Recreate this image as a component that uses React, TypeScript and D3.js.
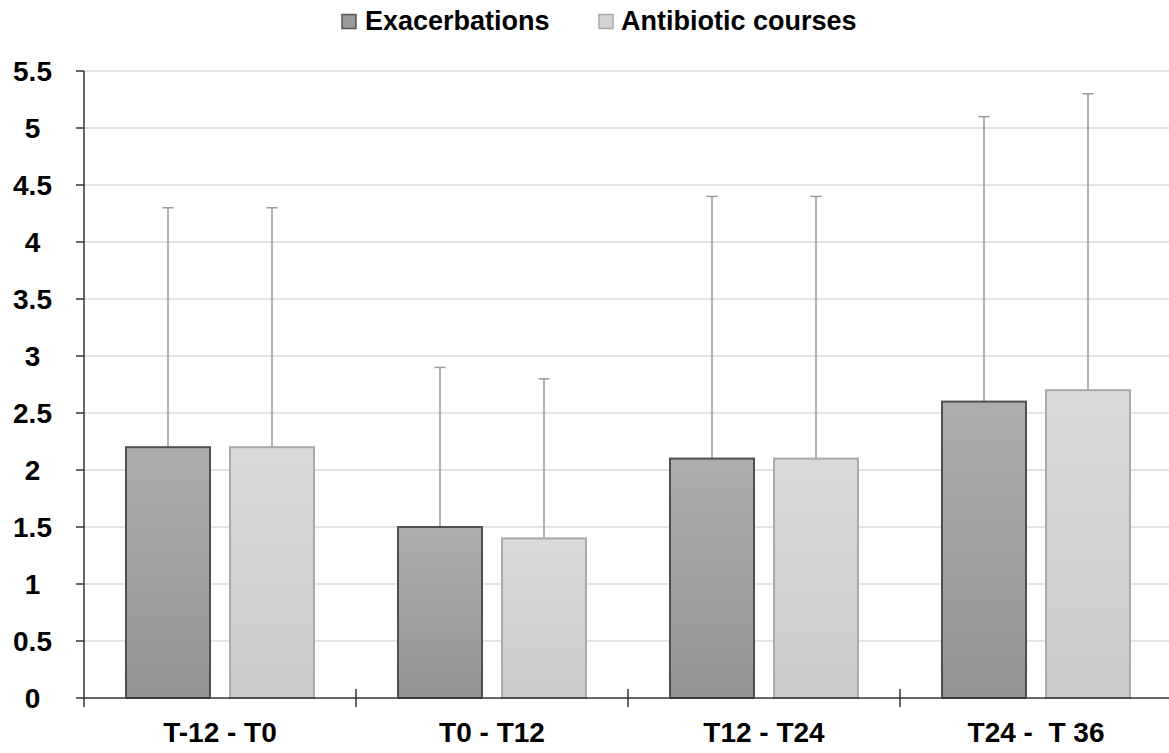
import React from "react";
import * as d3 from "d3";

const categories = ["T-12 - T0", "T0 - T12", "T12 - T24", "T24 -  T 36"];
const seriesNames = ["Exacerbations", "Antibiotic courses"];
const exacerbations = [2.2, 1.5, 2.1, 2.6];
const antibioticCourses = [2.2, 1.4, 2.1, 2.7];
const exacerbationsUpper = [4.3, 2.9, 4.4, 5.1];
const antibioticUpper = [4.3, 2.8, 4.4, 5.3];
const yTicks = [0, 0.5, 1, 1.5, 2, 2.5, 3, 3.5, 4, 4.5, 5, 5.5];

const W = 1169;
const H = 753;
const left = 84;
const right = 1172;
const top = 71;
const bottom = 698;
const FONT = "Arial, 'Liberation Sans', Helvetica, sans-serif";

export default function App() {
  const x0 = d3.scaleBand<string>().domain(categories).range([left, right]).padding(0);
  const x1 = d3
    .scaleBand<string>()
    .domain(seriesNames)
    .range([42, 230])
    .paddingInner(20 / 104)
    .paddingOuter(0);
  const y = d3.scaleLinear().domain([0, 5.5]).range([bottom, top]);
  const values = [exacerbations, antibioticCourses];
  const uppers = [exacerbationsUpper, antibioticUpper];
  const fills = ["url(#gDark)", "url(#gLight)"];
  const strokes = ["#4f4f4f", "#a9a9a9"];
  const legendFills = ["#9a9a9a", "#d3d3d3"];
  const legendStrokes = ["#555", "#aaa"];
  const legendX = [342, 599];
  const legendTextX = [365, 621];

  return (
    <svg
      width={W}
      height={H}
      style={{ position: "absolute", left: 0, top: 0, background: "#fff" }}
      fontFamily={FONT}
    >
      <defs>
        <linearGradient id="gDark" x1="0" y1="0" x2="0" y2="1">
          <stop offset="0" stopColor="#adadad" />
          <stop offset="1" stopColor="#939393" />
        </linearGradient>
        <linearGradient id="gLight" x1="0" y1="0" x2="0" y2="1">
          <stop offset="0" stopColor="#dadada" />
          <stop offset="1" stopColor="#cbcbcb" />
        </linearGradient>
      </defs>
      <rect x={0} y={0} width={W} height={H} fill="#fff" />

      {/* gridlines */}
      {yTicks.filter((t) => t > 0).map((t) => (
        <line key={"g" + t} x1={left} x2={W} y1={y(t)} y2={y(t)} stroke="#d9d9d9" strokeWidth={1.5} />
      ))}

      {/* error bars */}
      {categories.map((c, i) =>
        seriesNames.map((s, j) => {
          const cx = (x0(c) as number) + (x1(s) as number) + x1.bandwidth() / 2;
          return (
            <g key={"e" + i + j} stroke="#9a9a9a" strokeWidth={1.5}>
              <line x1={cx} x2={cx} y1={y(values[j][i])} y2={y(uppers[j][i])} />
              <line x1={cx - 5.5} x2={cx + 5.5} y1={y(uppers[j][i])} y2={y(uppers[j][i])} />
            </g>
          );
        })
      )}

      {/* bars */}
      {categories.map((c, i) =>
        seriesNames.map((s, j) => {
          const bx = (x0(c) as number) + (x1(s) as number);
          return (
            <rect
              key={"b" + i + j}
              x={bx}
              y={y(values[j][i])}
              width={x1.bandwidth()}
              height={bottom - y(values[j][i])}
              fill={fills[j]}
              stroke={strokes[j]}
              strokeWidth={2}
            />
          );
        })
      )}

      {/* axes */}
      <line x1={left} x2={left} y1={top} y2={bottom + 9} stroke="#333" strokeWidth={1.5} />
      <line x1={left} x2={W} y1={bottom} y2={bottom} stroke="#333" strokeWidth={1.5} />
      {yTicks.map((t) => (
        <g key={"t" + t}>
          <line x1={left - 8} x2={left} y1={y(t)} y2={y(t)} stroke="#333" strokeWidth={1.5} />
          <text
            x={32.5}
            y={y(t)}
            dy="0.36em"
            textAnchor="middle"
            fontSize={28}
            fontWeight="bold"
            fill="#000"
          >
            {String(t)}
          </text>
        </g>
      ))}
      {categories.slice(1).map((c) => (
        <line
          key={"xt" + c}
          x1={x0(c) as number}
          x2={x0(c) as number}
          y1={bottom - 9}
          y2={bottom + 9}
          stroke="#333"
          strokeWidth={1.5}
        />
      ))}
      {categories.map((c) => (
        <text
          key={"xl" + c}
          x={(x0(c) as number) + x0.bandwidth() / 2}
          y={742}
          textAnchor="middle"
          fontSize={28}
          fontWeight="bold"
          fill="#000"
          style={{ whiteSpace: "pre" }}
        >
          {c}
        </text>
      ))}

      {/* legend */}
      {seriesNames.map((s, j) => (
        <g key={"l" + s}>
          <rect
            x={legendX[j]}
            y={14.5}
            width={14}
            height={14}
            fill={legendFills[j]}
            stroke={legendStrokes[j]}
            strokeWidth={1.5}
          />
          <text x={legendTextX[j]} y={30} fontSize={27} fontWeight="bold" fill="#000">
            {s}
          </text>
        </g>
      ))}
    </svg>
  );
}
